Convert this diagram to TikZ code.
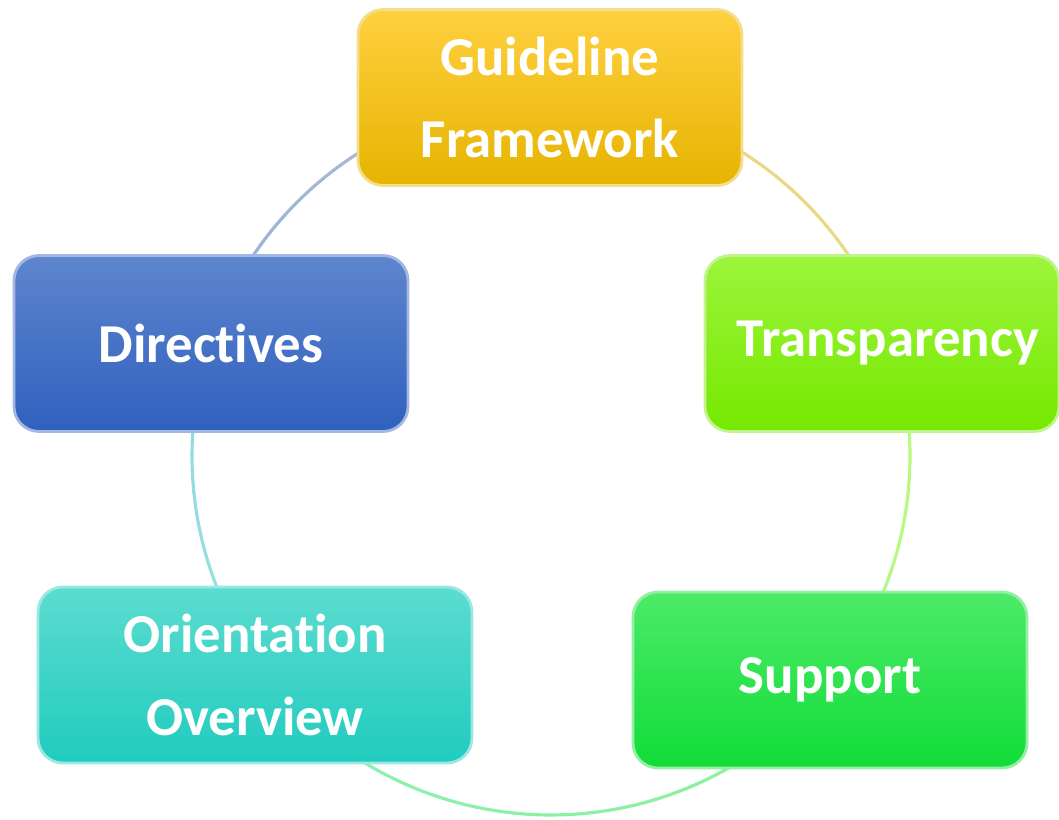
\documentclass[tikz,border=0pt]{standalone}
\usepackage{fontspec}
\setmainfont[Ligatures=NoCommon]{Carlito}
\usetikzlibrary{backgrounds}

\definecolor{gtop}{HTML}{FFD040}
\definecolor{gbot}{HTML}{E6B400}
\definecolor{ttop}{HTML}{9CF53C}
\definecolor{tbot}{HTML}{76E800}
\definecolor{stop}{HTML}{4CEB68}
\definecolor{sbot}{HTML}{12DC38}
\definecolor{otop}{HTML}{5CDCD0}
\definecolor{obot}{HTML}{20CCBE}
\definecolor{dtop}{HTML}{5E86CE}
\definecolor{dbot}{HTML}{3060BE}
\definecolor{gring}{HTML}{F0B848}

\tikzset{
  pbox/.style 2 args={rounded corners=0.25cm, top color=#1, bottom color=#2,
    draw=white!55!#2, line width=0.8pt, minimum height=1.76cm, inner sep=0pt,
    align=center, text=white, font=\bfseries\fontsize{15.6}{23.5}\selectfont},
  ring/.style={line width=0.9pt}
}

\begin{document}
\begin{tikzpicture}
    \useasboundingbox (0,0) rectangle (10.59,8.20);
    \coordinate (ctr) at (5.51,3.64);
    \node[pbox={gtop}{gbot}, minimum width=3.84cm] (G) at (5.50,7.225) {Guideline\\Framework};
    \node[pbox={ttop}{tbot}, minimum width=3.54cm] (T) at (8.82,4.765) {\hspace*{0.12cm}Transparency};
    \node[pbox={stop}{sbot}, minimum width=3.94cm] (S) at (8.30,1.40) {Support};
    \node[pbox={otop}{obot}, minimum width=4.34cm] (O) at (2.55,1.45) {Orientation\\Overview};
    \node[pbox={dtop}{dbot}, minimum width=3.94cm] (D) at (2.11,4.765) {Directives};
    % ring behind the boxes, each arc in the colour of the box it leaves
    \begin{scope}[on background layer]
        \foreach \a/\ca/\cb in {90/gring/ttop, 18/ttop/stop, -54/stop/otop, -126/otop/dtop, -198/dtop/gtop} {
            \foreach \i in {0,...,11} {
                \pgfmathsetmacro\s{\a-6*\i}
                \pgfmathsetmacro\p{100-30*\i/11}
                \draw[ring, \ca!\p!\cb!65] (ctr) ++(\s:3.59) arc[start angle=\s, end angle=\s-6.2, radius=3.59];
            }
        }
    \end{scope}
\end{tikzpicture}
\end{document}
